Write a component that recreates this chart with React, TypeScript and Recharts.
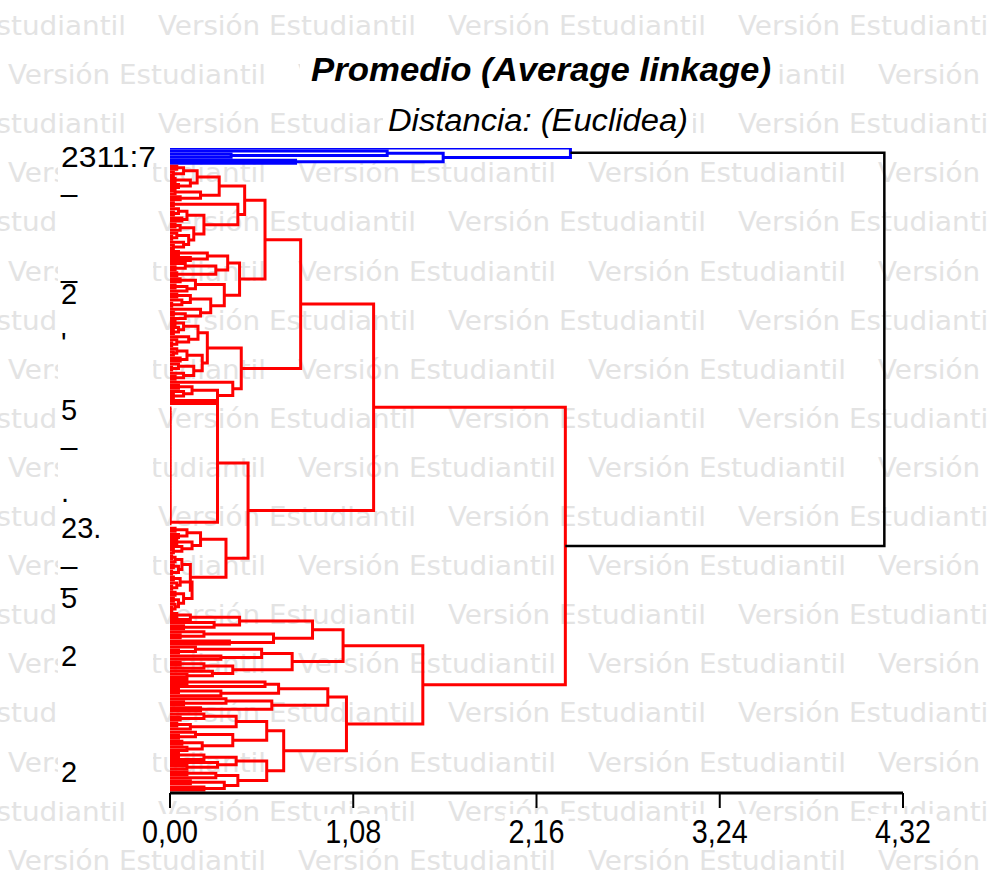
import React from "react";
import { LineChart, Line, XAxis, YAxis } from "recharts";

// a tree node is [merge distance, upper child, lower child];
// a plain number n stands for n observations tied at distance 0 (n = 1 is one leaf)
type Tree = number | [number, Tree, Tree];

const blueCluster: Tree = [2.36, 1, [1.61, [1.28, 1, [0.36, 1, 1]], [0.74, 1, 1]]];

const clusterA1: Tree = [0.77,
  [0.56,
    [0.44,
      [0.29,
        [0.16, [0.08, [0.04, 1, 1], [0.02, 1, 1]], [0.12, [0.03, 1, 1], [0.05, 1, 1]]],
        [0.18, [0.03, 1, 1], [0.06, 1, 1]]],
      [0.40, [0.02, 1, 1],
        [0.20,
          [0.10, [0.05, 1, [0.02, 1, 1]], [0.07, 1, 1]],
          [0.14, [0.06, [0.03, 1, 1], 1], [0.11, [0.04, 1, [0.01, 1, 1]], [0.08, 1, [0.02, 1, 1]]]]]]],
    [0.41,
      [0.34, [0.22, [0.05, 1, 1], [0.12, 1, 1]], [0.27, [0.09, 1, [0.03, 1, 1]], [0.04, 1, 1]]],
      [0.32,
        [0.15, [0.06, 1, 1], [0.10, [0.03, 1, 1], 1]],
        [0.24, [0.12, [0.04, 1, 1], [0.07, 1, [0.01, 1, 1]]], [0.18, 1, [0.09, [0.02, 1, 1], 1]]]]]],
  [0.42,
    [0.22,
      [0.165, [0.08, [0.03, 1, 1], [0.05, 1, [0.02, 1, 1]]], [0.11, 1, [0.04, 1, [0.01, 1, 1]]]],
      [0.19, [0.10, [0.04, 1, [0.02, 1, 1]], [0.06, 1, 1]], [0.14, [0.05, 1, [0.01, 1, 1]], [0.08, 1, [0.03, 1, 1]]]]],
    [0.37, 1, [0.28, [0.13, [0.05, 1, 1], [0.08, 1, [0.02, 1, 1]]], 1]]]];

const clusterA2: Tree = [0.46,
  [0.28, 1, 40],
  [0.33,
    [0.18, [0.10, [0.03, 1, 1], [0.05, 1, 1]], [0.13, [0.04, 1, 1], [0.07, 1, [0.02, 1, 1]]]],
    [0.12,
      [0.07, [0.03, [0.01, 1, 1], 1], [0.05, [0.02, 1, 1], [0.01, 1, 1]]],
      [0.13, [0.06, [0.02, 1, 1], [0.04, 1, [0.01, 1, 1]]],
        [0.08, [0.03, 1, 1], [0.05, [0.02, 1, 1], [0.03, 1, [0.01, 1, 1]]]]]]]];

const clusterB1: Tree = [1.02,
  [0.84,
    [0.41, [0.12, [0.04, 1, 1], 1], [0.26, 1, [0.08, 1, 1]]],
    [0.61, [0.20, 1, [0.06, 1, 1]], [0.35, 1, 1]]],
  [0.72,
    [0.54, [0.15, 1, [0.05, 1, 1]], [0.30, 1, 1]],
    [0.37, [0.20, [0.06, 1, 1], 1], [0.25, 1, [0.10, 1, 1]]]]];

const clusterB2: Tree = [1.04,
  [0.93,
    [0.64, [0.56, [0.10, 1, 1], 1], [0.30, [0.05, 1, 1], 1]],
    [0.60, [0.33, 1, [0.08, 1, 1]], [0.18, 1, 1]]],
  [0.67,
    [0.57,
      [0.39, [0.20, 1, [0.06, 1, 1]], [0.12, [0.04, 1, 1], 1]],
      [0.37, [0.15, 1, [0.05, 1, 1]], [0.19, [0.07, 1, 1], [0.10, 1, 1]]]],
    [0.57,
      [0.39, [0.20, [0.05, 1, 1], 1], [0.28, 1, [0.10, 1, 1]]],
      [0.40, [0.27, [0.10, 1, 1], 1], [0.32, [0.12, 1, 1], [0.20, 1, 1]]]]]];

const mergeA = 1.2;
const mergeB = 1.49;
const mergeRed = 2.33;
const mergeRoot = 4.21;

const distTicks = [0, 1.08, 2.16, 3.24, 4.32];
const distLabels = ["0,00", "1,08", "2,16", "3,24", "4,32"];

// overlapping leaf label fragments as they show up on the left
const leafLabels = [
  { leaf: 3, text: "2311:7" },
  { leaf: 11, text: "_" },
  { leaf: 39, text: "_" },
  { leaf: 48, text: "2" },
  { leaf: 64, text: "'" },
  { leaf: 86, text: "5" },
  { leaf: 94, text: "_" },
  { leaf: 113, text: "." },
  { leaf: 125, text: "23." },
  { leaf: 133, text: "_" },
  { leaf: 140, text: "_" },
  { leaf: 148, text: "5" },
  { leaf: 167, text: "2" },
  { leaf: 205, text: "2" },
];

const title = "Promedio (Average linkage)";
const subtitle = "Distancia: (Euclidea)";
const watermark = "Versión Estudiantil";

type Pt = { x: number; y: number };
type Link = { pts: Pt[]; color: string; w: number };
type Placed = { pos: number; h: number };

function join(h: number, a: Placed, b: Placed, color: string, w: number, links: Link[]): Placed {
  links.push({
    color,
    w,
    pts: [
      { x: a.h, y: a.pos },
      { x: h, y: a.pos },
      { x: h, y: b.pos },
      { x: b.h, y: b.pos },
    ],
  });
  return { pos: (a.pos + b.pos) / 2, h };
}

function place(t: Tree, color: string, links: Link[], next: { i: number }): Placed {
  if (typeof t === "number") {
    let cur: Placed = { pos: next.i++, h: 0 };
    for (let k = 1; k < t; k++) {
      cur = join(0, cur, { pos: next.i++, h: 0 }, color, 3, links);
    }
    return cur;
  }
  const a = place(t[1], color, links, next);
  const b = place(t[2], color, links, next);
  return join(t[0], a, b, color, 3, links);
}

const links: Link[] = [];
const counter = { i: 0 };
const bluePart = place(blueCluster, "#0000ff", links, counter);
const redTree: Tree = [mergeRed, [mergeA, clusterA1, clusterA2], [mergeB, clusterB1, clusterB2]];
const redPart = place(redTree, "#ff0000", links, counter);
join(mergeRoot, bluePart, redPart, "#000000", 2.5, links);
const leafCount = counter.i;

const DistTick = (props: any) => {
  const { x, y, payload } = props;
  const label = distLabels[distTicks.indexOf(payload.value)] ?? "";
  return (
    <g>
      <rect x={x - 32} y={y + 4} width={64} height={34} fill="#fff" />
      <text x={x} y={y + 33} textAnchor="middle" fontFamily="Liberation Sans, Arial, sans-serif"
        fontSize={34} textLength={56} lengthAdjust="spacingAndGlyphs" fill="#000">
        {label}
      </text>
    </g>
  );
};

const LeafTick = (props: any) => {
  const { y, payload } = props;
  const lab = leafLabels.find((l) => l.leaf === payload.value);
  if (!lab) return null;
  return (
    <text x={61} y={y + 10} fontFamily="Liberation Sans, Arial, sans-serif" fontSize={29} fill="#000"
      textLength={lab.text.length > 3 ? 95 : undefined} lengthAdjust="spacingAndGlyphs">
      {lab.text}
    </text>
  );
};

const Background = () => {
  const rows = [];
  for (let k = 0; k < 18; k++) {
    const yc = 25 + k * 49.1;
    const xs = k % 2 === 0 ? [-132, 158, 448, 738] : [8, 298, 588, 878];
    xs.forEach((x, j) =>
      rows.push(
        <text key={`${k}-${j}`} x={x} y={yc + 10} fontFamily="DejaVu Sans, sans-serif" fontSize={26}
          fill="#e3e3e3" textLength={258} lengthAdjust="spacingAndGlyphs">
          {watermark}
        </text>
      )
    );
  }
  return (
    <svg width={987} height={877} style={{ position: "absolute", left: 0, top: 0 }}>
      <rect width={987} height={877} fill="#fff" />
      {rows}
      <rect x={58} y={140} width={95} height={662} fill="#fff" />
      <rect x={300} y={50} width={476} height={42} fill="#fff" />
      <rect x={383} y={102} width={310} height={36} fill="#fff" />
      <text x={541} y={81} textAnchor="middle" fontFamily="Liberation Sans, Arial, sans-serif"
        fontWeight="bold" fontStyle="italic" fontSize={34} textLength={460} lengthAdjust="spacingAndGlyphs">
        {title}
      </text>
      <text x={538} y={131} textAnchor="middle" fontFamily="Liberation Sans, Arial, sans-serif"
        fontStyle="italic" fontSize={31} textLength={300} lengthAdjust="spacingAndGlyphs">
        {subtitle}
      </text>
    </svg>
  );
};

export default function App() {
  return (
    <div style={{ position: "absolute", left: 0, top: 0, width: 987, height: 877 }}>
      <Background />
      <div style={{ position: "absolute", left: 0, top: 0 }}>
        <LineChart width={987} height={877} margin={{ top: 148, right: 84, bottom: 0, left: 60 }}>
          <XAxis
            type="number"
            dataKey="x"
            domain={[0, 4.32]}
            ticks={distTicks}
            interval={0}
            allowDataOverflow
            height={84}
            tickSize={15}
            axisLine={{ stroke: "#000", strokeWidth: 3 }}
            tickLine={{ stroke: "#000", strokeWidth: 2 }}
            tick={<DistTick />}
          />
          <YAxis
            type="number"
            dataKey="y"
            domain={[0, leafCount]}
            reversed
            allowDataOverflow
            width={110}
            ticks={leafLabels.map((l) => l.leaf)}
            interval={0}
            axisLine={false}
            tickLine={false}
            tick={<LeafTick />}
          />
          {links.map((l, i) => (
            <Line
              key={i}
              data={l.pts}
              dataKey="y"
              type="linear"
              stroke={l.color}
              strokeWidth={l.w}
              dot={false}
              activeDot={false}
              legendType="none"
              isAnimationActive={false}
            />
          ))}
        </LineChart>
      </div>
    </div>
  );
}
